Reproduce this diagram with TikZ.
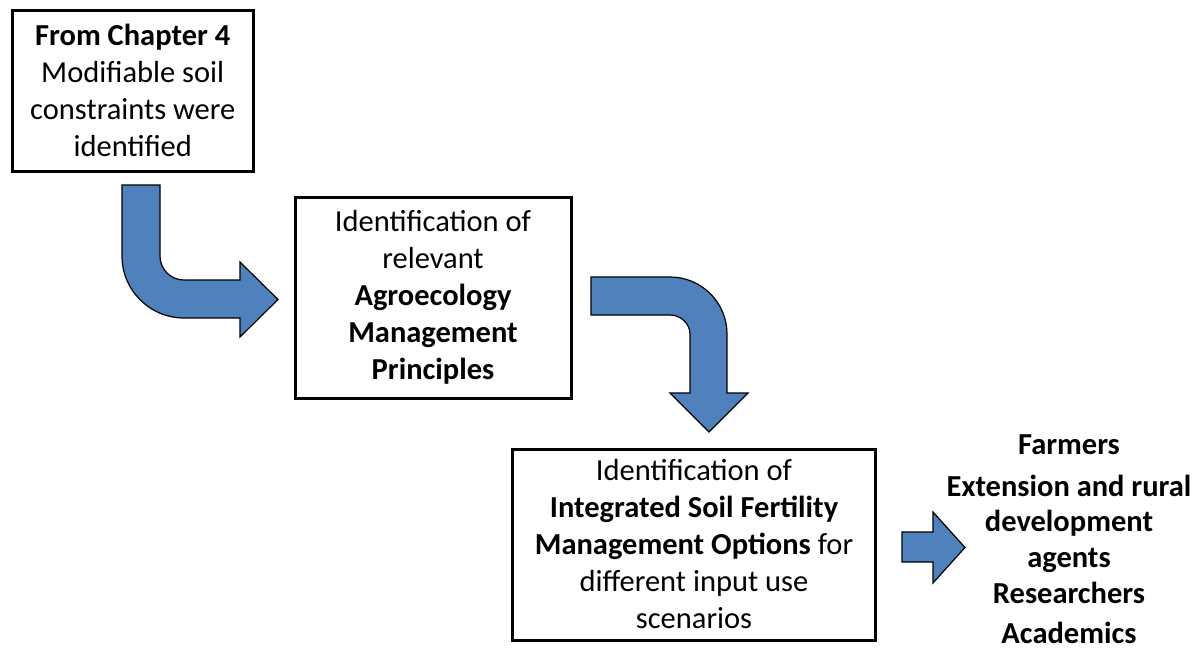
\documentclass[tikz,border=0pt]{standalone}
\usepackage{fontspec}
\setmainfont{Carlito}
\definecolor{arrowblue}{HTML}{4F81BD}
\tikzset{
  box/.style={draw=black, line width=3pt, fill=white, align=center, inner sep=0pt,
    font=\fontsize{30.5}{37}\selectfont},
  blockarrow/.style={fill=arrowblue, draw=black, line width=1.2pt, line join=miter},
  lbl/.style={align=center, inner sep=0pt, font=\fontsize{30.5}{35.5}\selectfont\bfseries, anchor=base}
}
\begin{document}
\begin{tikzpicture}[x=1pt,y=-1pt]
\useasboundingbox (0,0) rectangle (1195,649);
% boxes
\node[box, minimum width=240.5pt, minimum height=160.5pt] (b1) at (132.75,90.75)
  {\textbf{From Chapter 4}\\Modifiable soil\\constraints were\\identified};
\node[box, minimum width=276pt, minimum height=201pt] (b2) at (433,297.5)
  {Identification of\\relevant\\\textbf{Agroecology}\\\textbf{Management}\\\textbf{Principles}};
\node[box, minimum width=363pt, minimum height=191pt] (b3) at (694,544.5)
  {Identification of\\\textbf{Integrated Soil Fertility}\\\textbf{Management Options} for\\different input use\\scenarios};
% arrow 1 (down then right)
\draw[blockarrow] (122,185) -- (122,256)
  .. controls (122,290.2) and (149.8,318) .. (184,318)
  -- (240,318) -- (240,337) -- (278,299.5) -- (240,262) -- (240,280) -- (184,280)
  .. controls (170.7,280) and (160,269.3) .. (160,256)
  -- (160,185) -- cycle;
% arrow 2 (right then down)
\draw[blockarrow] (591,277) -- (670,277)
  .. controls (701.5,277) and (727,302.5) .. (727,334)
  -- (727,393) -- (748,393) -- (709,432) -- (670,393) -- (690,393) -- (690,334)
  .. controls (690,323.5) and (680.5,315) .. (670,315)
  -- (591,315) -- cycle;
% arrow 3 (right)
\draw[blockarrow] (902,532) -- (933,532) -- (933,512) -- (965,547.5) -- (933,583) -- (933,562) -- (902,562) -- cycle;
% audience
\node[lbl] (farmers) at (1069,454) {Farmers};
\node[lbl] (ext) at (1069,567) {Extension and rural\\development\\agents};
\node[lbl] (res) at (1069,603) {Researchers};
\node[lbl] (acad) at (1069,643) {Academics};
\end{tikzpicture}
\end{document}
